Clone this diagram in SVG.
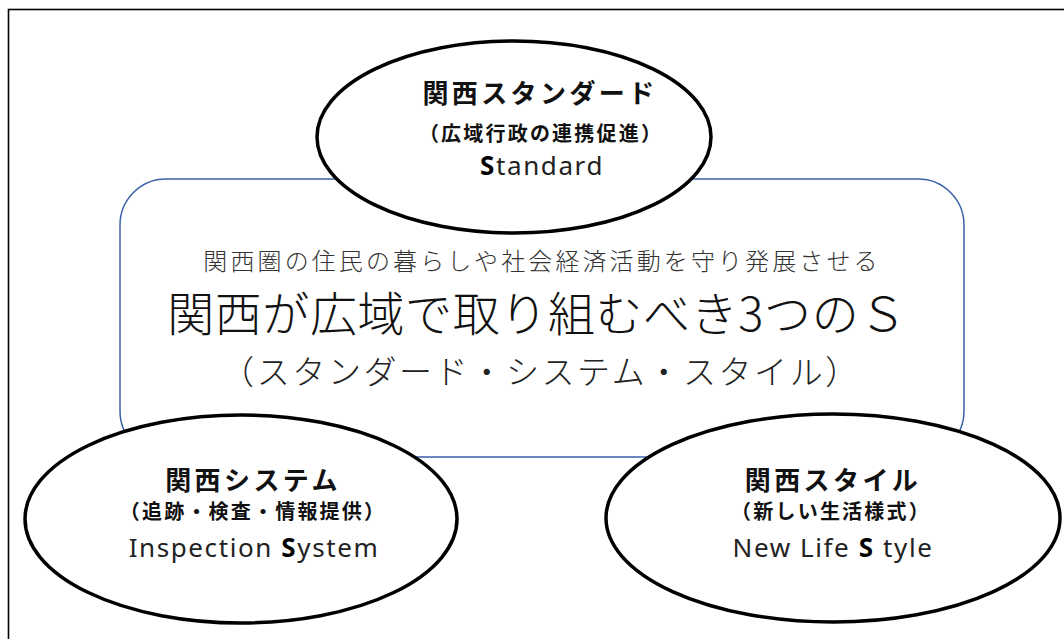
<svg xmlns="http://www.w3.org/2000/svg" width="1064" height="639" viewBox="0 0 1064 639">
<style>
.jp{font-family:"Noto Sans CJK JP","Noto Sans",sans-serif;text-anchor:middle}
.title{font-size:26px;font-weight:bold;fill:#111;letter-spacing:3.4px}
.sub{font-size:20px;font-weight:bold;fill:#111;letter-spacing:2.2px}
.en{font-family:"Noto Sans","Noto Sans CJK JP",sans-serif;font-size:26px;fill:#222;text-anchor:middle;letter-spacing:1.6px}
.en tspan.b{font-weight:bold;fill:#000}
.node{fill:#fff;stroke:#000;stroke-width:3.5}
.center{fill:#fff;stroke:#3a62a8;stroke-width:1.5}
.c1{font-size:24px;font-weight:300;fill:#333;letter-spacing:3.1px}
.c2{font-size:47px;font-weight:300;fill:#111;letter-spacing:0.6px}
.c3{font-size:33px;font-weight:300;fill:#222;letter-spacing:2.6px}
</style>
<rect id="frame" x="8.5" y="9.5" width="1100" height="700" fill="#fff" stroke="#000" stroke-width="1.6"/>
<g id="center-node">
<rect class="center" x="120" y="179" width="844" height="278" rx="46" ry="46"/>
<text class="jp c1" x="542" y="270">関西圏の住民の暮らしや社会経済活動を守り発展させる</text>
<text class="jp c2" x="537" y="331">関西が広域で取り組むべき3つのＳ</text>
<text class="jp c3" x="541" y="384">（スタンダード・システム・スタイル）</text>
</g>
<g id="connectors"></g>
<g id="node-standard">
<ellipse class="node" cx="514" cy="137" rx="197" ry="96"/>
<text class="jp title" x="540" y="103">関西スタンダード</text>
<text class="jp sub" x="541" y="141">（広域行政の連携促進）</text>
<text class="en" x="542" y="175"><tspan class="b">S</tspan>tandard</text>
</g>
<g id="node-system">
<ellipse class="node" cx="241" cy="519" rx="216" ry="104"/>
<text class="jp title" x="253" y="490">関西システム</text>
<text class="jp sub" x="253" y="519">（追跡・検査・情報提供）</text>
<text class="en" x="254" y="557">Inspection <tspan class="b">S</tspan>ystem</text>
</g>
<g id="node-style">
<ellipse class="node" cx="833" cy="518" rx="227" ry="104"/>
<text class="jp title" x="833" y="490">関西スタイル</text>
<text class="jp sub" x="831" y="519">（新しい生活様式）</text>
<text class="en" x="833" y="557">New Life <tspan class="b">S</tspan> tyle</text>
</g>
</svg>
